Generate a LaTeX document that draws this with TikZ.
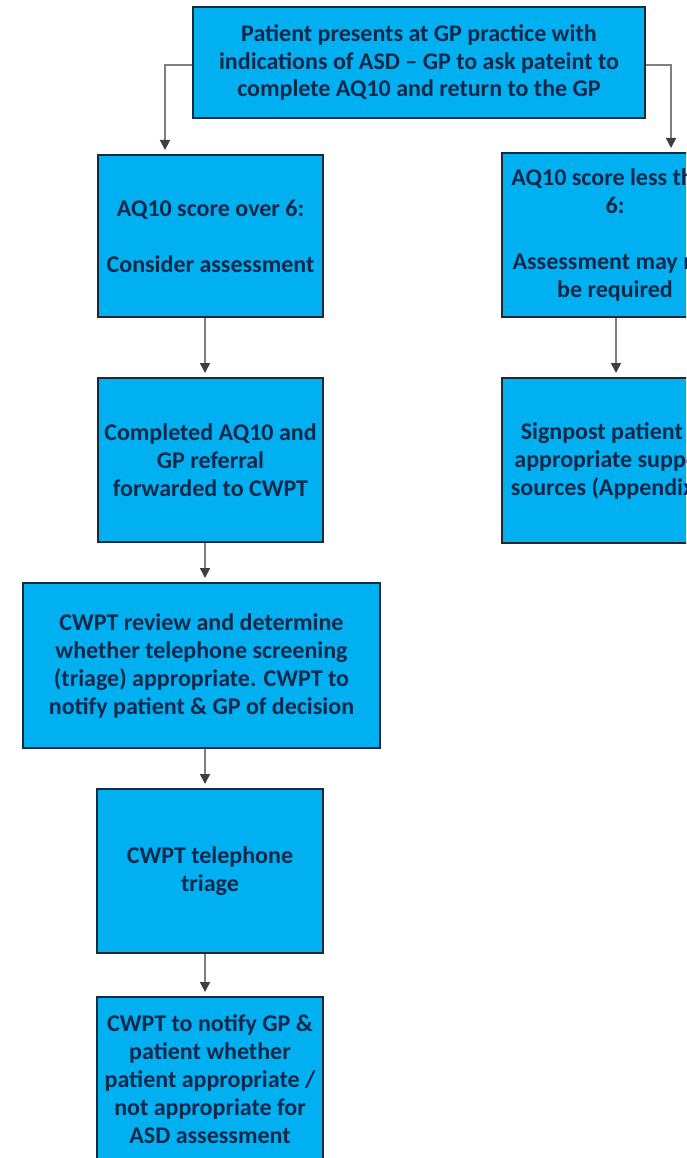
\documentclass[tikz,border=0pt]{standalone}
\usepackage{fontspec}
\setmainfont{Carlito}
\usetikzlibrary{arrows.meta}
\definecolor{boxfill}{HTML}{00B0F0}
\definecolor{boxline}{HTML}{1B2A38}
\definecolor{boxtext}{HTML}{10284A}
\definecolor{linkgray}{HTML}{7F7F7F}
\definecolor{tipgray}{HTML}{3F3F3F}
\tikzset{
  stepbox/.style={draw=boxline, line width=2pt, fill=boxfill, text=boxtext,
    align=center, inner sep=0pt, font=\bfseries\fontsize{24}{28}\selectfont},
  topbox/.style={stepbox, font=\bfseries\fontsize{24}{27.5}\selectfont},
  link/.style={draw=linkgray, line width=1.5pt, shorten >=4pt,
    -{Triangle[length=10pt, width=10pt, color=tipgray]}}
}
\begin{document}
\begin{tikzpicture}[x=1pt, y=-1pt]
\useasboundingbox (0,0) rectangle (686,1158);
\clip (0,0) rectangle (686,1158);
\fill[white] (0,0) rectangle (686,1158);

% top box
\node[topbox, minimum width=452pt, minimum height=111pt] (top) at (419,62.5)
  {Patient presents at GP practice with\\indications of ASD -- GP to ask pateint to\\complete AQ10 and return to the GP};

% left column
\node[stepbox, minimum width=225pt, minimum height=162pt] (l1) at (210.5,236)
  {AQ10 score over 6:\\[28pt]Consider assessment};
\node[stepbox, minimum width=225pt, minimum height=164pt] (l2) at (210.5,460)
  {Completed AQ10 and\\GP referral\\forwarded to CWPT};
\node[stepbox, minimum width=357pt, minimum height=165pt] (l3) at (201.5,665.5)
  {CWPT review and determine\\whether telephone screening\\(triage) appropriate. CWPT to\\notify patient \& GP of decision};
\node[stepbox, minimum width=226pt, minimum height=164pt] (l4) at (210,871)
  {CWPT telephone\\triage};
\node[stepbox, minimum width=226pt, minimum height=164pt] (l5) at (210,1079)
  {CWPT to notify GP \&\\patient whether\\patient appropriate /\\not appropriate for\\ASD assessment};

% right column, running past the right edge
\node[stepbox, minimum width=226pt, minimum height=164pt] (r1) at (615,235)
  {AQ10 score less than\\6:\\[28pt]Assessment may not\\be required};
\node[stepbox, minimum width=226pt, minimum height=165pt] (r2) at (615,460.5)
  {Signpost patient to\\appropriate support\\sources (Appendix 1)};

% connectors
\draw[link] ([yshift=-2.5pt]top.west) -| ([xshift=-45.5pt]l1.north);
\draw[link] ([yshift=-2.5pt]top.east) -| ([xshift=56pt]r1.north);
\draw[link] ([xshift=-5.5pt]l1.south) -- ([xshift=-5.5pt]l2.north);
\draw[link] ([xshift=-5.5pt]l2.south) -- ([xshift=-5.5pt]l2.south |- l3.north);
\draw[link] ([xshift=-5pt]l4.north |- l3.south) -- ([xshift=-5pt]l4.north);
\draw[link] ([xshift=-5pt]l4.south) -- ([xshift=-5pt]l5.north);
\draw[link] ([xshift=1pt]r1.south) -- ([xshift=1pt]r2.north);
\end{tikzpicture}
\end{document}
